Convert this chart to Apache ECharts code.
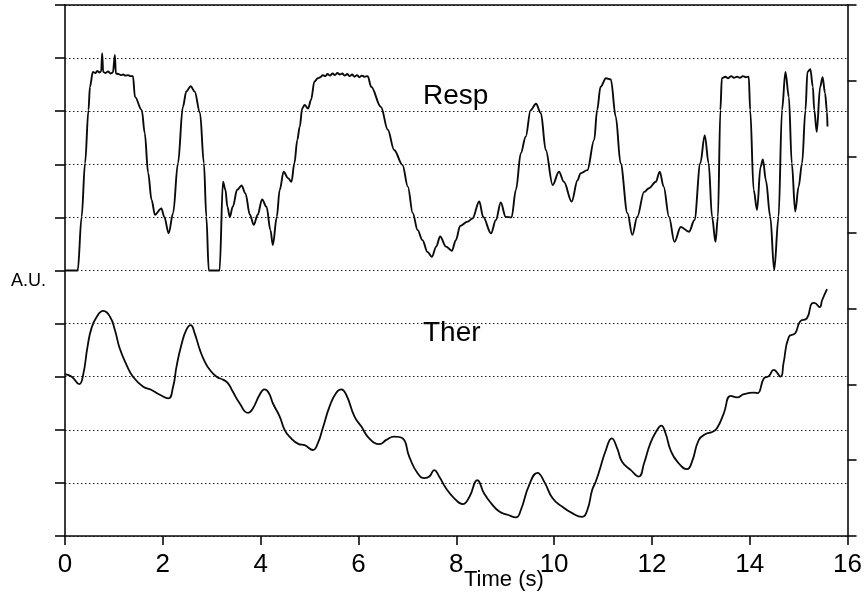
<!DOCTYPE html>
<html>
<head>
<meta charset="utf-8">
<script src="https://cdn.jsdelivr.net/npm/echarts@6/dist/echarts.min.js"></script>
<style>
  html, body { margin: 0; padding: 0; background: #fff; }
  #chart { width: 865px; height: 592px; }
</style>
</head>
<body>
<div id="chart"></div>
<script>
// Respiration (Resp) trace: time in seconds, amplitude in arbitrary units
const respTime = [
  0, 0.26, 0.34, 0.41, 0.48, 0.51, 0.57, 0.62, 0.66, 0.70, 0.74, 0.76, 0.78, 0.83, 0.88, 0.93, 0.98, 1.02, 1.04,
  1.09, 1.14, 1.19, 1.24, 1.29, 1.34, 1.39, 1.43, 1.57, 1.63, 1.70, 1.77, 1.84, 1.97, 2.03, 2.12, 2.21, 2.31,
  2.41, 2.48, 2.57, 2.65, 2.76, 2.84, 2.89, 2.94, 3.16, 3.23, 3.28, 3.32, 3.37, 3.43, 3.52, 3.61, 3.69, 3.78,
  3.86, 3.94, 4.03, 4.12, 4.20, 4.25, 4.33, 4.39, 4.47, 4.56, 4.63, 4.69, 4.75, 4.80, 4.85, 4.90, 4.97, 5.03,
  5.10, 5.17, 5.22, 5.27, 5.32, 5.37, 5.42, 5.47, 5.52, 5.57, 5.62, 5.67, 5.72, 5.77, 5.82, 5.87, 5.92, 5.97,
  6.02, 6.07, 6.12, 6.19, 6.26, 6.46, 6.60, 6.73, 6.90, 7.01, 7.11, 7.21, 7.31, 7.41, 7.50, 7.59, 7.67, 7.79,
  7.91, 7.99, 8.08, 8.23, 8.33, 8.47, 8.55, 8.71, 8.81, 8.91, 9.01, 9.13, 9.22, 9.32, 9.42, 9.52, 9.63, 9.73,
  9.83, 9.97, 10.10, 10.20, 10.36, 10.48, 10.54, 10.68, 10.82, 10.88, 10.95, 11.06, 11.16, 11.26, 11.36, 11.50,
  11.60, 11.70, 11.84, 11.94, 12.08, 12.16, 12.24, 12.35, 12.46, 12.59, 12.76, 12.87, 12.99, 13.08, 13.16,
  13.23, 13.30, 13.35, 13.40, 13.43, 13.50, 13.56, 13.62, 13.68, 13.74, 13.80, 13.86, 13.92, 13.98, 14.01,
  14.08, 14.15, 14.22, 14.27, 14.33, 14.42, 14.50, 14.59, 14.66, 14.73, 14.80, 14.86, 14.93, 15.00, 15.07,
  15.14, 15.18, 15.24, 15.29, 15.32, 15.37, 15.44, 15.49, 15.54, 15.58, 15.59
];
const respValue = [
  5.00, 5.00, 6.01, 7.02, 8.02, 8.46, 8.74, 8.72, 8.76, 8.73, 8.75, 9.09, 8.74, 8.72, 8.75, 8.71, 8.73, 9.06, 8.71,
  8.70, 8.68, 8.69, 8.67, 8.68, 8.66, 8.66, 8.27, 8.02, 7.59, 6.84, 6.33, 6.05, 6.17, 6.01, 5.70, 6.08, 7.02,
  8.08, 8.37, 8.47, 8.37, 7.97, 7.02, 6.01, 5.00, 5.00, 6.67, 6.52, 6.20, 6.01, 6.20, 6.52, 6.60, 6.45, 6.05,
  5.86, 6.05, 6.34, 6.20, 5.76, 5.48, 6.01, 6.52, 6.86, 6.74, 6.67, 7.02, 7.46, 7.71, 8.05, 8.12, 8.05, 8.21,
  8.56, 8.62, 8.64, 8.68, 8.66, 8.70, 8.67, 8.71, 8.68, 8.72, 8.69, 8.71, 8.67, 8.70, 8.66, 8.69, 8.65, 8.68,
  8.64, 8.67, 8.65, 8.66, 8.46, 8.08, 7.65, 7.27, 6.99, 6.58, 6.08, 5.76, 5.57, 5.35, 5.26, 5.45, 5.64, 5.45,
  5.37, 5.57, 5.84, 5.92, 5.98, 6.30, 6.01, 5.70, 5.95, 6.28, 6.01, 6.00, 6.52, 7.21, 7.52, 8.02, 8.14, 7.96,
  7.27, 6.61, 6.86, 6.67, 6.30, 6.70, 6.83, 6.89, 7.46, 8.02, 8.46, 8.62, 8.60, 7.90, 7.02, 6.08,
  5.67, 6.01, 6.48, 6.55, 6.67, 6.86, 6.58, 6.01, 5.54, 5.82, 5.73, 5.95, 7.02, 7.55, 7.02,
  6.01, 5.54, 6.01, 8.02, 8.62, 8.65, 8.62, 8.66, 8.63, 8.65, 8.63, 8.66, 8.64, 8.65, 8.02,
  6.52, 6.14, 6.95, 7.09, 6.70, 6.01, 5.01, 6.01, 8.02, 8.74, 8.27, 7.02, 6.11, 6.58, 7.02,
  8.02, 8.74, 8.79, 8.46, 8.02, 7.61, 8.46, 8.64, 8.34, 7.99, 7.71
];

// Thermistor (Ther) trace
const therTime = [
  0, 0.14, 0.29, 0.37, 0.46, 0.54, 0.65, 0.78, 0.92, 1.02, 1.12, 1.26, 1.39, 1.60, 1.77, 1.94, 2.11, 2.21, 2.28,
  2.38, 2.48, 2.57, 2.65, 2.76, 2.86, 2.96, 3.10, 3.24, 3.33, 3.43, 3.57, 3.74, 3.84, 3.98, 4.08, 4.17, 4.25,
  4.39, 4.49, 4.59, 4.78, 4.90, 5.07, 5.17, 5.27, 5.41, 5.54, 5.65, 5.75, 5.92, 6.06, 6.22, 6.43, 6.57, 6.73,
  6.90, 7.04, 7.21, 7.35, 7.45, 7.55, 7.65, 7.79, 7.96, 8.13, 8.27, 8.43, 8.57, 8.71, 8.88, 9.05, 9.22, 9.32,
  9.49, 9.66, 9.80, 9.97, 10.17, 10.37, 10.57, 10.68, 10.78, 10.85, 10.92, 11.06, 11.18, 11.29, 11.39, 11.57,
  11.73, 11.84, 11.97, 12.11, 12.19, 12.28, 12.38, 12.52, 12.72, 12.82, 12.96, 13.10, 13.23, 13.33, 13.47,
  13.61, 13.74, 13.88, 14.08, 14.16, 14.29, 14.39, 14.49, 14.63, 14.69, 14.80, 14.93, 15.03, 15.17, 15.27,
  15.32, 15.43, 15.48, 15.58
];
const therValue = [
  3.05, 3.00, 2.86, 3.03, 3.56, 3.91, 4.13, 4.24, 4.13, 3.88, 3.53, 3.22, 3.00, 2.81, 2.75, 2.66, 2.59, 2.81, 3.19,
  3.60, 3.88, 3.97, 3.82, 3.50, 3.28, 3.13, 3.00, 2.94, 2.88, 2.72, 2.50, 2.32, 2.40, 2.66, 2.76, 2.69, 2.50,
  2.25, 2.00, 1.87, 1.73, 1.71, 1.62, 1.75, 2.03, 2.44, 2.69, 2.76, 2.66, 2.25, 2.06, 1.84, 1.73, 1.81, 1.87,
  1.84, 1.49, 1.18, 1.09, 1.12, 1.24, 1.12, 0.90, 0.71, 0.60, 0.74, 1.05, 0.80, 0.62, 0.46, 0.40, 0.35, 0.49,
  0.96, 1.19, 1.02, 0.71, 0.55, 0.43, 0.36, 0.49, 0.87, 1.02, 1.21, 1.62, 1.84, 1.65, 1.40, 1.24,
  1.12, 1.37, 1.75, 2.00, 2.08, 1.93, 1.62, 1.40, 1.26, 1.40, 1.81, 1.92, 1.96, 2.03, 2.31,
  2.64, 2.61, 2.67, 2.70, 2.69, 2.97, 3.01, 3.13, 3.00, 3.25, 3.75, 3.82, 4.04, 4.10, 4.38,
  4.39, 4.31, 4.44, 4.65
];

// Axis ticks
const timeTicks = [0, 2, 4, 6, 8, 10, 12, 14, 16];
const leftTickCount = 10;   // A.U. divisions on the left scale
const rightTickCount = 7;   // divisions on the right scale

const pairs = (xs, ys) => xs.map((x, i) => [x, ys[i]]);

const FONT = '"Liberation Sans", Arial, Helvetica, sans-serif';
const INK = '#0a0a0a';

const chart = echarts.init(document.getElementById('chart'), null, { renderer: 'canvas' });

chart.setOption({
  animation: false,
  backgroundColor: '#fff',
  grid: { left: 65, right: 16, top: 5, bottom: 56, containLabel: false },
  xAxis: [
    {
      type: 'value',
      min: timeTicks[0],
      max: timeTicks[timeTicks.length - 1],
      interval: timeTicks[1] - timeTicks[0],
      axisLine: { show: true, onZero: false, lineStyle: { color: INK, width: 1.6 } },
      axisTick: { show: true, length: 9, lineStyle: { color: INK, width: 1.6 } },
      axisLabel: { color: '#000', fontSize: 26, fontFamily: FONT, margin: 16 },
      splitLine: { show: false }
    },
    {
      type: 'value',
      position: 'top',
      min: timeTicks[0],
      max: timeTicks[timeTicks.length - 1],
      axisLine: { show: true, onZero: false, lineStyle: { color: INK, width: 1.6 } },
      axisTick: { show: false },
      axisLabel: { show: false },
      splitLine: { show: false }
    }
  ],
  yAxis: [
    {
      type: 'value',
      min: 0,
      max: leftTickCount,
      interval: 1,
      axisLine: { show: true, onZero: false, lineStyle: { color: INK, width: 1.6 } },
      axisTick: { show: true, length: 10, lineStyle: { color: INK, width: 1.6 } },
      axisLabel: { show: false },
      splitLine: { show: true, lineStyle: { color: '#222', width: 1, type: [1.5, 2.5] } }
    },
    {
      type: 'value',
      position: 'right',
      min: 0,
      max: rightTickCount,
      interval: 1,
      axisLine: { show: true, onZero: false, lineStyle: { color: INK, width: 1.6 } },
      axisTick: { show: true, length: 9, lineStyle: { color: INK, width: 1.6 } },
      axisLabel: { show: false },
      splitLine: { show: false }
    }
  ],
  series: [
    {
      name: 'Resp',
      type: 'line',
      xAxisIndex: 0,
      yAxisIndex: 0,
      data: pairs(respTime, respValue),
      showSymbol: false,
      smooth: 0.35,
      smoothMonotone: 'x',
      lineStyle: { color: INK, width: 1.9 },
      z: 3
    },
    {
      name: 'Ther',
      type: 'line',
      xAxisIndex: 0,
      yAxisIndex: 0,
      data: pairs(therTime, therValue),
      showSymbol: false,
      smooth: 0.5,
      lineStyle: { color: INK, width: 1.8 },
      z: 3
    }
  ],
  graphic: [
    { type: 'text', left: 11, top: 272, style: { text: 'A.U.', font: '18px ' + FONT, fill: '#000' } },
    { type: 'text', left: 423, top: 82, style: { text: 'Resp', font: '28px ' + FONT, fill: '#000' } },
    { type: 'text', left: 423, top: 319, style: { text: 'Ther', font: '28px ' + FONT, fill: '#000' } },
    { type: 'text', left: 464, top: 569, style: { text: 'Time (s)', font: '22px ' + FONT, fill: '#000' } }
  ]
});
</script>
</body>
</html>
